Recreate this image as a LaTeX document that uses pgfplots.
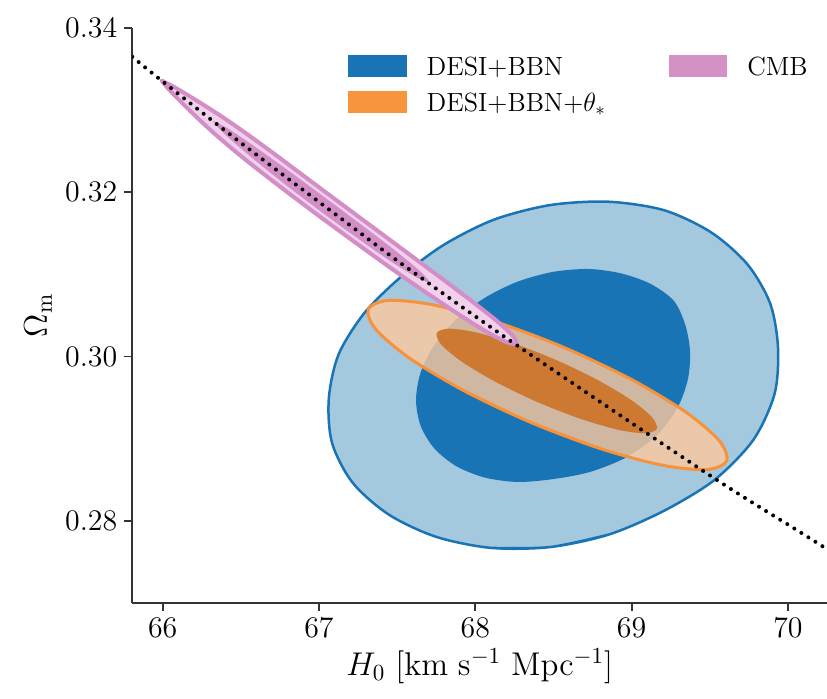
\RequirePackage{fix-cm}
\documentclass[border=0pt]{standalone}
\usepackage{pgfplots}
\pgfplotsset{compat=1.18}
\definecolor{dblue}{RGB}{24,116,180}
\definecolor{lblue}{RGB}{164,200,222}
\definecolor{oline}{RGB}{247,146,58}
\definecolor{lorange}{RGB}{255,200,157}
\definecolor{dorange}{RGB}{205,121,49}
\definecolor{cmbp}{RGB}{211,142,199}
\definecolor{cmbl}{RGB}{240,208,235}
\begin{document}
\begin{tikzpicture}
\useasboundingbox (-66.15bp,-48.15bp) rectangle (347.35bp,301.35bp);
\begin{axis}[
  scale only axis, width=347.35bp, height=287.35bp,
  xmin=65.8055, xmax=70.2502, ymin=0.27, ymax=0.34,
  axis x line*=bottom, axis y line*=left,
  axis line style={line width=0.9bp, black!80},
  tick style={line width=0.9bp, black!80},
  major tick length=4bp,
  tick align=outside,
  xtick={66,67,68,69,70}, ytick={0.28,0.30,0.32,0.34},
  scaled y ticks=false,
  y tick label style={/pgf/number format/fixed, /pgf/number format/fixed zerofill, /pgf/number format/precision=2},
  tick label style={font=\fontsize{15}{18}\selectfont},
  xlabel={$H_0~[\mathrm{km~s^{-1}~Mpc^{-1}}]$},
  ylabel={$\Omega_{\rm m}$},
  label style={font=\fontsize{16.5}{20}\selectfont},
  xlabel style={at={(axis description cs:0.5,-0.1110)}, anchor=center},
  ylabel style={at={(axis description cs:-0.1356,0.5)}, anchor=center},
  legend columns=2,
  legend style={draw=none, fill=none, inner sep=0pt, outer sep=0pt,
    at={(0.3108,0.9572)}, anchor=north west,
    font=\fontsize{13.2}{16}\selectfont,
    column sep=8bp, row sep=3.3bp,
    cells={anchor=base west, inner sep=0pt},
    /tikz/every even column/.append style={column sep=29.5bp}},
]
% DESI+BBN 2 sigma (closed contour; first and last points overlap)
\addplot[forget plot, smooth, fill=lblue, draw=dblue, line width=1.25bp] coordinates {
(68.8554,0.278308)
(68.4779,0.276774) (68.1005,0.276676) (67.7486,0.278028) (67.4466,0.280732)
(67.2150,0.284618) (67.0832,0.289477) (67.0627,0.294849) (67.1254,0.300244)
(67.2905,0.305287) (67.5240,0.309684) (67.7959,0.313557) (68.1171,0.316639)
(68.4779,0.318429) (68.8497,0.318843) (69.2073,0.317808) (69.5093,0.315104)
(69.7410,0.311219) (69.8868,0.306444) (69.9367,0.301073) (69.9149,0.295446)
(69.7793,0.289843) (69.5298,0.284946) (69.2073,0.281195) (68.8554,0.278308)
(68.4779,0.276774) (68.1005,0.276676)};
% DESI+BBN 1 sigma
\addplot[forget plot, smooth, fill=dblue, draw=none] coordinates {
(68.7307,0.285909)
(68.4971,0.285056) (68.2700,0.284703) (68.0589,0.285251) (67.8772,0.286639)
(67.7383,0.288783) (67.6507,0.291524) (67.6206,0.294690) (67.6507,0.298064)
(67.7383,0.301402) (67.8772,0.304495) (68.0589,0.307114) (68.2700,0.309099)
(68.4971,0.310293) (68.7243,0.310646) (68.9354,0.310098) (69.1229,0.308819)
(69.2713,0.306749) (69.3436,0.303825) (69.3737,0.300659) (69.3609,0.297285)
(69.2943,0.293765) (69.1606,0.290379) (68.9616,0.287663) (68.7307,0.285909)
(68.4971,0.285056) (68.2700,0.284703)};
% DESI+BBN+theta 2 sigma
\addplot[forget plot, smooth, fill=lorange, fill opacity=0.8, draw=oline, line width=1.5bp] coordinates {
(68.8063,0.288732)
(68.3598,0.291918) (67.9288,0.295804) (67.5790,0.299798) (67.3636,0.303293)
(67.3155,0.305756) (67.4419,0.306813) (67.7236,0.306302) (68.1177,0.304302)
(68.5642,0.301116) (68.9952,0.297230) (69.3450,0.293236) (69.5604,0.289741)
(69.6085,0.287278) (69.4821,0.286221) (69.2004,0.286732) (68.8063,0.288732)
(68.3598,0.291918) (67.9288,0.295804)};
% DESI+BBN+theta 1 sigma
\addplot[forget plot, smooth, fill=dorange, draw=none] coordinates {
(68.6721,0.292402)
(68.3981,0.294436) (68.1331,0.296862) (67.9175,0.299308) (67.7838,0.301406)
(67.7527,0.302832) (67.8287,0.303372) (68.0004,0.302942) (68.2415,0.301608)
(68.5155,0.299574) (68.7805,0.297148) (68.9961,0.294702) (69.1298,0.292604)
(69.1609,0.291178) (69.0849,0.290638) (68.9132,0.291068) (68.6721,0.292402)
(68.3981,0.294436) (68.1331,0.296862)};
% CMB 2 sigma
\addplot[forget plot, smooth, fill=cmbl, draw=cmbp, line width=2bp, line join=round] coordinates {
(65.9936,0.333581) (66.0633,0.332918) (66.1905,0.331480) (66.3906,0.329051)
(66.6416,0.325680) (67.0521,0.319858) (67.5660,0.312602) (67.9247,0.307496)
(68.1265,0.304498) (68.2220,0.302860) (68.2479,0.302297) (68.2661,0.301538)
(68.2212,0.301611) (68.1840,0.301881) (68.0694,0.303029) (67.8523,0.305637)
(67.4822,0.310449) (66.9645,0.317607) (66.5578,0.323527) (66.3221,0.327289)
(66.1486,0.330403) (66.0443,0.332430) (65.9936,0.333581)} -- cycle;
% CMB 1 sigma
\addplot[forget plot, smooth, fill=cmbp, draw=none] coordinates {
(66.3209,0.328691) (66.4083,0.327866) (66.5680,0.325833) (66.8284,0.322293)
(67.1369,0.317946) (67.4433,0.313543) (67.5931,0.311253) (67.6653,0.310040)
(67.7060,0.309037) (67.6425,0.309453) (67.5588,0.310372) (67.3976,0.312367)
(67.0851,0.316614) (66.7788,0.321020) (66.5299,0.324854) (66.3854,0.327279)
(66.3209,0.328691)} -- cycle;
% constant theta line
\addplot[forget plot, smooth, black, line width=2bp, line cap=round, dash pattern=on 0pt off 4.15bp] coordinates {
(65.8055,0.336492) (65.9936,0.333581) (66.5266,0.325628) (67.2195,0.315677)
(67.5393,0.311133) (68.2540,0.301511) (69.4805,0.285763) (70.0563,0.278856)
(70.2502,0.276530)};
% legend
\addlegendimage{legend image code/.code={\fill[color={rgb,255:red,25;green,116;blue,181}] (0bp,-0.5bp) rectangle (28.85bp,9.85bp);}}
\addlegendentry{DESI+BBN}
\addlegendimage{legend image code/.code={\fill[color={rgb,255:red,211;green,145;blue,198}] (0bp,-0.5bp) rectangle (28.85bp,9.85bp);}}
\addlegendentry{CMB}
\addlegendimage{legend image code/.code={\fill[color={rgb,255:red,247;green,148;blue,60}] (0bp,-0.5bp) rectangle (28.85bp,9.85bp);}}
\addlegendentry{DESI+BBN+$\theta_*$}
\end{axis}
\end{tikzpicture}
\end{document}
